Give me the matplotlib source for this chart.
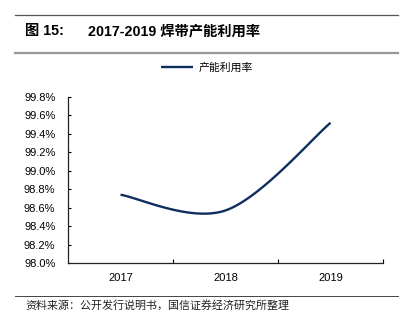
import numpy as np
import matplotlib.pyplot as plt
from matplotlib.ticker import FuncFormatter

plt.rcParams['font.family'] = ['Liberation Sans', 'Noto Sans CJK SC', 'DejaVu Sans']

# --- data ---
years = ['2017', '2018', '2019']
utilization = [98.74, 98.57, 99.52]   # 焊带产能利用率 (%)
series_name = '产能利用率'
title_no = '图 15:'
title_text = '2017-2019 焊带产能利用率'
source_text = '资料来源：公开发行说明书，国信证券经济研究所整理'

LINE = '#0E2F5E'


def smooth_curve(xs, ys, n=60):
    """Excel-style smoothed line: cubic Bezier with Catmull-Rom tangents."""
    xs = np.asarray(xs, float)
    ys = np.asarray(ys, float)
    px, py = [], []
    for i in range(len(xs) - 1):
        i0, i3 = max(i - 1, 0), min(i + 2, len(xs) - 1)
        c1x = xs[i] + (xs[i + 1] - xs[i0]) / 6
        c1y = ys[i] + (ys[i + 1] - ys[i0]) / 6
        c2x = xs[i + 1] - (xs[i3] - xs[i]) / 6
        c2y = ys[i + 1] - (ys[i3] - ys[i]) / 6
        t = np.linspace(0, 1, n)
        a, b, c, d = (1 - t) ** 3, 3 * (1 - t) ** 2 * t, 3 * (1 - t) * t ** 2, t ** 3
        px.append(a * xs[i] + b * c1x + c * c2x + d * xs[i + 1])
        py.append(a * ys[i] + b * c1y + c * c2y + d * ys[i + 1])
    return np.concatenate(px), np.concatenate(py)


W, H = 414, 323
fig = plt.figure(figsize=(W / 100, H / 100), dpi=100)

# header / footer rules
fig.add_artist(plt.Line2D([15 / W, 398 / W], [1 - 15 / H, 1 - 15 / H], color='#555555', lw=0.9))
fig.add_artist(plt.Line2D([15 / W, 398 / W], [1 - 53 / H, 1 - 53 / H], color='#999999', lw=1.6))
fig.add_artist(plt.Line2D([15 / W, 398 / W], [1 - 296 / H, 1 - 296 / H], color='#444444', lw=0.7))

fig.text(25 / W, 1 - 31 / H, title_no, fontsize=10.3, fontweight='bold', va='center',
         family=['Liberation Sans', 'Noto Sans CJK SC'])
fig.text(88 / W, 1 - 31 / H, title_text, fontsize=10.3, fontweight='bold', va='center',
         family=['Liberation Sans', 'Noto Sans CJK SC'])
fig.text(25 / W, 1 - 305 / H, source_text, fontsize=7.9, va='center', color='#222222',
         family=['Noto Sans CJK SC'])

ax = fig.add_axes([68 / W, 60 / H, 315 / W, 166 / H])
x = np.arange(len(years))
sx, sy = smooth_curve(x, utilization)
ax.plot(sx, sy, color=LINE, lw=1.7, label=series_name, solid_capstyle='butt')

ax.set_xlim(-0.5, len(years) - 0.5)
ax.set_ylim(98.0, 99.8)
ax.set_yticks(np.arange(98.0, 99.81, 0.2))
ax.yaxis.set_major_formatter(FuncFormatter(lambda v, p: f'{v:.1f}%'))
ax.set_xticks(x)
ax.set_xticklabels(years)
ax.set_xticks(np.arange(0.5, len(years), 1.0), minor=True)
ax.tick_params(axis='x', which='major', length=0, pad=7, labelsize=8)
ax.tick_params(axis='x', which='minor', direction='in', length=3, width=0.8)
ax.tick_params(axis='y', direction='in', length=2.5, width=0.8, labelsize=8, pad=9)

for s in ['top', 'right']:
    ax.spines[s].set_visible(False)
for s in ['left', 'bottom']:
    ax.spines[s].set_linewidth(0.9)
    ax.spines[s].set_color('#222222')

leg = fig.legend(loc='center', bbox_to_anchor=(0.5, 1 - 68 / H), frameon=False,
                 handlelength=2.9, handletextpad=0.5,
                 prop={'family': ['Noto Sans CJK SC'], 'size': 7.8})

fig.savefig('out.png', dpi=100)
